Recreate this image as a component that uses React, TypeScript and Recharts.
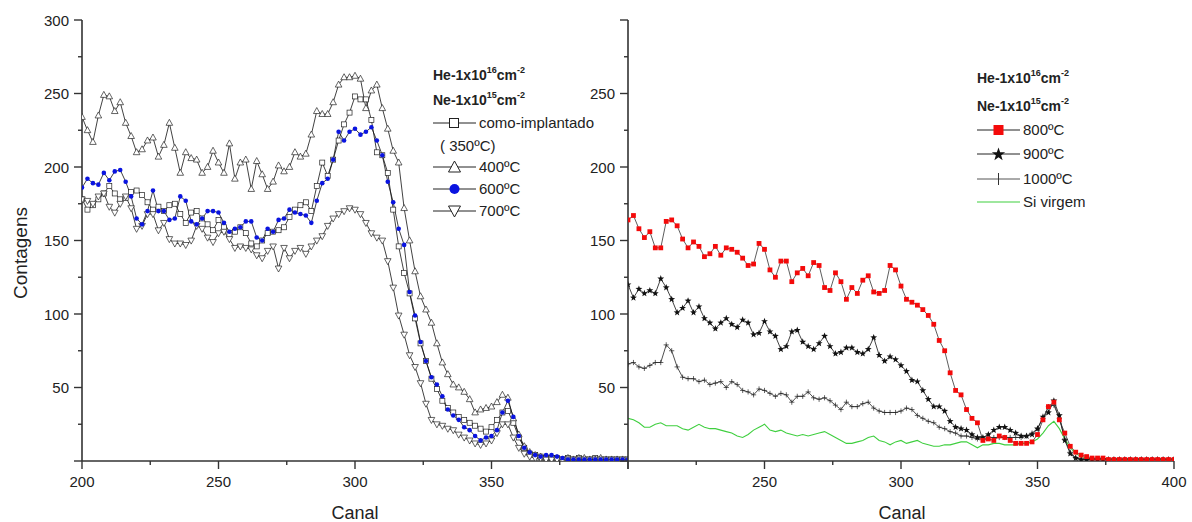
import React from 'react';
import { LineChart, Line, XAxis, YAxis } from 'recharts';

// channel axis (every 2nd channel)
const canal = [
  200, 202, 204, 206, 208, 210, 212, 214, 216, 218, 220, 222, 224, 226, 228, 230, 232, 234, 236, 238,
  240, 242, 244, 246, 248, 250, 252, 254, 256, 258, 260, 262, 264, 266, 268, 270, 272, 274, 276, 278,
  280, 282, 284, 286, 288, 290, 292, 294, 296, 298, 300, 302, 304, 306, 308, 310, 312, 314, 316, 318,
  320, 322, 324, 326, 328, 330, 332, 334, 336, 338, 340, 342, 344, 346, 348, 350, 352, 354, 356, 358,
  360, 362, 364, 366, 368, 370, 372, 374, 376, 378, 380, 382, 384, 386, 388, 390, 392, 394, 396, 398,
  400,
];

// left panel
const comoImplantado = [
  178, 171, 174, 178, 182, 187, 182, 178, 179, 183, 184, 181, 176, 171, 173, 170, 174, 175, 168, 162,
  169, 170, 165, 161, 157, 164, 159, 154, 156, 159, 155, 148, 146, 150, 155, 156, 157, 159, 166, 171,
  174, 176, 170, 187, 203, 194, 205, 218, 229, 237, 248, 246, 246, 232, 210, 208, 196, 171, 146, 128,
  114, 97, 80, 68, 56, 49, 41, 36, 33, 30, 28, 26, 24, 22, 20, 23, 28, 33, 34, 26,
  16, 9, 5, 4, 3, 2, 2, 2, 1, 2, 1, 2, 1, 1, 2, 1, 1, 1, 1, 1,
  1,
];
const t400 = [
  234, 225, 217, 235, 249, 248, 238, 244, 230, 221, 210, 212, 218, 220, 207, 215, 230, 213, 196, 210,
  206, 205, 196, 200, 211, 203, 196, 216, 192, 203, 205, 185, 204, 195, 185, 190, 201, 197, 200, 210,
  207, 209, 222, 238, 236, 236, 244, 256, 261, 261, 262, 260, 240, 252, 256, 240, 226, 211, 203, 172,
  150, 129, 112, 103, 94, 80, 67, 59, 52, 50, 47, 42, 33, 35, 36, 37, 40, 45, 43, 29,
  18, 10, 6, 4, 3, 2, 2, 2, 1, 2, 1, 2, 2, 1, 1, 2, 1, 1, 1, 1,
  1,
];
const t600 = [
  186, 192, 189, 188, 196, 191, 197, 198, 190, 180, 165, 161, 170, 184, 170, 170, 164, 165, 180, 177,
  163, 161, 165, 170, 170, 169, 162, 156, 158, 159, 163, 163, 152, 150, 158, 156, 164, 165, 171, 169,
  168, 167, 162, 177, 189, 192, 205, 224, 218, 224, 226, 222, 224, 227, 218, 208, 190, 176, 158, 147,
  115, 99, 81, 68, 57, 52, 44, 35, 31, 28, 23, 21, 17, 14, 16, 17, 21, 33, 41, 30,
  17, 9, 6, 4, 3, 4, 4, 3, 2, 1, 1, 1, 1, 1, 1, 1, 1, 1, 1, 1,
  1,
];
const t700 = [
  178, 177, 175, 180, 182, 173, 169, 175, 180, 172, 158, 160, 168, 168, 157, 162, 151, 148, 148, 147,
  150, 160, 158, 152, 149, 155, 156, 151, 145, 146, 145, 144, 140, 138, 143, 146, 131, 145, 138, 143,
  145, 141, 146, 150, 153, 160, 165, 168, 170, 172, 171, 168, 162, 155, 152, 150, 136, 118, 99, 86,
  72, 64, 53, 39, 28, 25, 24, 22, 21, 18, 16, 14, 12, 11, 12, 14, 19, 25, 25, 16,
  9, 5, 3, 2, 2, 1, 1, 1, 1, 1, 1, 1, 1, 1, 1, 1, 1, 1, 1, 1,
  1,
];

// right panel
const t800 = [
  164, 167, 158, 152, 156, 145, 145, 163, 164, 160, 151, 145, 149, 146, 139, 141, 146, 140, 145, 144,
  142, 138, 133, 134, 148, 144, 130, 125, 136, 136, 122, 128, 131, 126, 135, 133, 118, 116, 128, 122,
  110, 118, 114, 123, 126, 115, 114, 116, 133, 130, 119, 110, 108, 106, 103, 99, 93, 82, 75, 60,
  48, 45, 35, 29, 26, 14, 15, 14, 17, 16, 14, 12, 12, 12, 13, 18, 28, 37, 40, 28,
  19, 10, 6, 4, 3, 2, 2, 2, 1, 1, 1, 1, 1, 1, 1, 1, 1, 1, 1, 1,
  1,
];
const t900 = [
  120, 111, 117, 114, 116, 114, 124, 118, 110, 101, 104, 109, 101, 105, 97, 94, 90, 94, 97, 93,
  91, 96, 94, 86, 87, 95, 88, 85, 76, 78, 88, 89, 81, 78, 76, 80, 85, 78, 73, 74,
  77, 77, 74, 73, 76, 84, 72, 68, 71, 69, 65, 61, 55, 54, 48, 42, 37, 37, 34, 27,
  23, 22, 21, 18, 16, 16, 18, 21, 23, 23, 21, 19, 17, 17, 18, 22, 30, 33, 41, 31,
  14, 5, 2, 1, 1, 1, 1, 1, 1, 1, 1, 1, 1, 1, 1, 1, 1, 1, 1, 1,
  1,
];
const t1000 = [
  66, 67, 64, 63, 65, 67, 67, 79, 75, 64, 57, 56, 56, 54, 55, 52, 53, 54, 50, 54,
  52, 48, 47, 45, 49, 48, 46, 44, 46, 45, 40, 44, 44, 47, 43, 42, 43, 41, 38, 35,
  40, 37, 37, 39, 40, 36, 34, 33, 33, 33, 34, 36, 35, 31, 29, 27, 26, 23, 22, 20,
  19, 17, 17, 16, 15, 15, 16, 16, 16, 16, 16, 16, 16, 17, 19, 22, 29, 37, 38, 29,
  15, 6, 2, 1, 1, 1, 1, 1, 1, 1, 1, 1, 1, 1, 1, 1, 1, 1, 1, 1,
  1,
];
const siVirgem = [
  29, 28, 26, 23, 23, 25, 26, 24, 24, 24, 22, 21, 23, 25, 23, 22, 22, 21, 20, 19,
  17, 16, 18, 21, 23, 25, 21, 20, 21, 19, 18, 17, 18, 17, 18, 19, 20, 18, 16, 14,
  12, 12, 13, 14, 16, 17, 14, 13, 11, 13, 14, 12, 13, 14, 12, 11, 10, 10, 11, 11,
  12, 13, 13, 11, 9, 11, 11, 12, 12, 11, 11, 11, 12, 12, 13, 15, 19, 24, 27, 22,
  15, 9, 5, 3, 2, 1, 1, 1, 1, 1, 1, 1, 1, 1, 1, 1, 1, 1, 1, 1,
  1,
];

const xTicks = [200, 225, 250, 275, 300, 325, 350, 375, 400];
const yTicks = [0, 25, 50, 75, 100, 125, 150, 175, 200, 225, 250, 275, 300];
const leftXLabels = [200, 250, 300, 350];
const rightXLabels = [250, 300, 350, 400];
const leftYLabels = [50, 100, 150, 200, 250, 300];
const rightYLabels = [50, 100, 150, 200, 250];

const data = canal.map((c, i) => ({
  canal: c,
  como: comoImplantado[i],
  t400: t400[i],
  t600: t600[i],
  t700: t700[i],
  t800: t800[i],
  t900: t900[i],
  t1000: t1000[i],
  si: siVirgem[i],
}));

const FONT = '"Liberation Sans", Arial, Helvetica, sans-serif';
const AX = '#333';
const TXT = '#222';

const makeTick = (side: string, labels: number[]) => (p: any) => {
  const { x, y, payload, index } = p;
  const v = payload.value;
  const major = v % 50 === 0;
  const show = labels.includes(v);
  const k = `${side}-${index}`;
  if (side === 'left') {
    const len = major ? 8 : 4;
    return (
      <g key={k}>
        <line x1={x - len} x2={x} y1={y} y2={y} stroke={AX} strokeWidth={1.4} />
        {show && (
          <text x={x - 13} y={y} textAnchor="end" dominantBaseline="central" fontSize={15} fill={TXT} fontFamily={FONT}>
            {v}
          </text>
        )}
      </g>
    );
  }
  if (side === 'bottom') {
    const len = major ? 8 : 4;
    return (
      <g key={k}>
        <line x1={x} x2={x} y1={y} y2={y + len} stroke={AX} strokeWidth={1.4} />
        {show && (
          <text x={x} y={y + 26} textAnchor="middle" fontSize={15} fill={TXT} fontFamily={FONT}>
            {v}
          </text>
        )}
      </g>
    );
  }
  if (side === 'top') {
    const len = major ? 7 : 4;
    return <line key={k} x1={x} x2={x} y1={y} y2={y + len} stroke={AX} strokeWidth={1.4} />;
  }
  const len = major ? 6 : 4;
  return <line key={k} x1={x - len} x2={x} y1={y} y2={y} stroke={AX} strokeWidth={1.4} />;
};

// markers
const none = (p: any) => <g key={`n${p.index}`} />;
const ok = (p: any) => typeof p.cx === 'number' && typeof p.cy === 'number';

const openSquare = (p: any) =>
  ok(p) ? <rect key={`s${p.index}`} x={p.cx - 2.5} y={p.cy - 2.5} width={5} height={5} fill="#fff" stroke="#222" strokeWidth={0.7} /> : none(p);
const openTriUp = (p: any) =>
  ok(p) ? (
    <polygon key={`u${p.index}`} points={`${p.cx},${p.cy - 3.6} ${p.cx - 3.3},${p.cy + 2.4} ${p.cx + 3.3},${p.cy + 2.4}`} fill="#fff" stroke="#222" strokeWidth={0.7} />
  ) : none(p);
const openTriDown = (p: any) =>
  ok(p) ? (
    <polygon key={`d${p.index}`} points={`${p.cx},${p.cy + 3.6} ${p.cx - 3.3},${p.cy - 2.4} ${p.cx + 3.3},${p.cy - 2.4}`} fill="#fff" stroke="#222" strokeWidth={0.7} />
  ) : none(p);
const blueDot = (p: any) =>
  ok(p) ? <circle key={`b${p.index}`} cx={p.cx} cy={p.cy} r={2.3} fill="#0a14e0" stroke="none" /> : none(p);
const redSquare = (p: any) =>
  ok(p) ? <rect key={`r${p.index}`} x={p.cx - 2.4} y={p.cy - 2.4} width={4.8} height={4.8} fill="#f40a0a" stroke="none" /> : none(p);

const starPts = (cx: number, cy: number, ro: number, ri: number) => {
  const pts: string[] = [];
  for (let i = 0; i < 10; i++) {
    const r = i % 2 === 0 ? ro : ri;
    const a = -Math.PI / 2 + (i * Math.PI) / 5;
    pts.push(`${cx + r * Math.cos(a)},${cy + r * Math.sin(a)}`);
  }
  return pts.join(' ');
};
const blackStar = (p: any) =>
  ok(p) ? <polygon key={`t${p.index}`} points={starPts(p.cx, p.cy, 3.6, 1.5)} fill="#111" /> : none(p);
const plusMark = (p: any) =>
  ok(p) ? (
    <g key={`p${p.index}`}>
      <line x1={p.cx - 2.6} x2={p.cx + 2.6} y1={p.cy} y2={p.cy} stroke="#222" strokeWidth={0.7} />
      <line x1={p.cx} x2={p.cx} y1={p.cy - 2.6} y2={p.cy + 2.6} stroke="#222" strokeWidth={0.7} />
    </g>
  ) : none(p);

const axisLine = { stroke: AX, strokeWidth: 1.6 };

const Sup: React.FC<{ children: React.ReactNode }> = ({ children }) => (
  <span style={{ fontSize: 9, position: 'relative', top: -7 }}>{children}</span>
);

const Dose: React.FC<{ el: string; exp: string; x: number; cy: number }> = ({ el, exp, x, cy }) => (
  <div style={{ position: 'absolute', left: x, top: cy - 9, height: 18, lineHeight: '18px', fontSize: 14, fontWeight: 'bold', color: TXT, whiteSpace: 'nowrap' }}>
    {el}-1x10<Sup>{exp}</Sup>cm<Sup>-2</Sup>
  </div>
);

const LegendRow: React.FC<{ x: number; cy: number; label: string; marker: React.ReactNode; color?: string; lw?: number }> = ({
  x,
  cy,
  label,
  marker,
  color = '#222',
  lw = 1,
}) => (
  <div style={{ position: 'absolute', left: x, top: cy - 9, height: 18, display: 'flex', alignItems: 'center', whiteSpace: 'nowrap' }}>
    <svg width={43} height={16} style={{ display: 'block' }}>
      <line x1={0} x2={43} y1={8} y2={8} stroke={color} strokeWidth={lw} />
      {marker}
    </svg>
    <span style={{ marginLeft: 3, fontSize: 15, color: TXT, lineHeight: '18px' }}>{label}</span>
  </div>
);

const App: React.FC = () => {
  return (
    <div style={{ position: 'absolute', left: 0, top: 0, width: 1192, height: 522, background: '#fff', fontFamily: FONT }}>
      <div style={{ position: 'absolute', left: 0, top: 0 }}>
        <LineChart width={640} height={522} data={data} margin={{ top: 20, right: 12, bottom: 0, left: 0 }}>
          <XAxis
            dataKey="canal"
            type="number"
            domain={[200, 400]}
            ticks={xTicks}
            interval={0}
            height={61}
            axisLine={axisLine}
            tickLine={false}
            tickSize={0}
            tickMargin={0}
            tick={makeTick('bottom', leftXLabels)}
            allowDataOverflow
          />
          <XAxis
            xAxisId="top"
            dataKey="canal"
            type="number"
            orientation="top"
            mirror
            domain={[200, 400]}
            ticks={xTicks}
            interval={0}
            height={0}
            axisLine={axisLine}
            tickLine={false}
            tickSize={0}
            tickMargin={0}
            tick={makeTick('top', [])}
          />
          <YAxis
            type="number"
            domain={[0, 300]}
            ticks={yTicks}
            interval={0}
            width={82}
            axisLine={axisLine}
            tickLine={false}
            tickSize={0}
            tickMargin={0}
            tick={makeTick('left', leftYLabels)}
            allowDataOverflow
          />
          <Line dataKey="como" stroke="#111" strokeWidth={0.8} dot={openSquare} activeDot={false} isAnimationActive={false} />
          <Line dataKey="t400" stroke="#111" strokeWidth={0.8} dot={openTriUp} activeDot={false} isAnimationActive={false} />
          <Line dataKey="t700" stroke="#111" strokeWidth={0.8} dot={openTriDown} activeDot={false} isAnimationActive={false} />
          <Line dataKey="t600" stroke="#111" strokeWidth={0.8} dot={blueDot} activeDot={false} isAnimationActive={false} />
        </LineChart>
      </div>

      <div style={{ position: 'absolute', left: 540, top: 0 }}>
        <LineChart width={652} height={522} data={data} margin={{ top: 20, right: 18, bottom: 0, left: 0 }}>
          <XAxis
            dataKey="canal"
            type="number"
            domain={[200, 400]}
            ticks={xTicks}
            interval={0}
            height={61}
            axisLine={axisLine}
            tickLine={false}
            tickSize={0}
            tickMargin={0}
            tick={makeTick('bottom', rightXLabels)}
            allowDataOverflow
          />
          <XAxis
            xAxisId="top"
            dataKey="canal"
            type="number"
            orientation="top"
            mirror
            domain={[200, 400]}
            ticks={xTicks}
            interval={0}
            height={0}
            axisLine={axisLine}
            tickLine={false}
            tickSize={0}
            tickMargin={0}
            tick={makeTick('top', [])}
          />
          <YAxis
            type="number"
            domain={[0, 300]}
            ticks={yTicks}
            interval={0}
            width={88}
            axisLine={axisLine}
            tickLine={false}
            tickSize={0}
            tickMargin={0}
            tick={makeTick('left', rightYLabels)}
            allowDataOverflow
          />
          <YAxis
            yAxisId="r"
            type="number"
            orientation="right"
            mirror
            domain={[0, 300]}
            ticks={yTicks}
            interval={0}
            width={0}
            axisLine={axisLine}
            tickLine={false}
            tickSize={0}
            tickMargin={0}
            tick={makeTick('right', [])}
          />
          <Line dataKey="t1000" stroke="#222" strokeWidth={0.8} dot={plusMark} activeDot={false} isAnimationActive={false} />
          <Line dataKey="t900" stroke="#111" strokeWidth={0.8} dot={blackStar} activeDot={false} isAnimationActive={false} />
          <Line dataKey="t800" stroke="#333" strokeWidth={0.8} dot={redSquare} activeDot={false} isAnimationActive={false} />
          <Line dataKey="si" stroke="#3fcf3f" strokeWidth={1.1} dot={false} activeDot={false} isAnimationActive={false} />
        </LineChart>
      </div>

      {/* axis titles */}
      <div style={{ position: 'absolute', left: 20, top: 253, transform: 'translate(-50%, -50%) rotate(-90deg)', fontSize: 19, lineHeight: 1, color: TXT, whiteSpace: 'nowrap' }}>
        Contagens
      </div>
      <div style={{ position: 'absolute', left: 355, top: 513, transform: 'translate(-50%, -50%)', fontSize: 18, lineHeight: 1, color: TXT }}>Canal</div>
      <div style={{ position: 'absolute', left: 902, top: 513, transform: 'translate(-50%, -50%)', fontSize: 18, lineHeight: 1, color: TXT }}>Canal</div>

      {/* left legend */}
      <Dose el="He" exp="16" x={433} cy={75} />
      <Dose el="Ne" exp="15" x={433} cy={100} />
      <LegendRow x={433} cy={123} label="como-implantado" marker={<rect x={16.5} y={3.5} width={9} height={9} fill="#fff" stroke="#222" strokeWidth={1} />} />
      <div style={{ position: 'absolute', left: 440, top: 146 - 9, height: 18, lineHeight: '18px', fontSize: 15, color: TXT, whiteSpace: 'nowrap' }}>( 350ºC)</div>
      <LegendRow x={433} cy={167} label="400ºC" marker={<polygon points="21.5,2 15.5,13 27.5,13" fill="#fff" stroke="#222" strokeWidth={1} />} />
      <LegendRow x={433} cy={189} label="600ºC" marker={<circle cx={21.5} cy={8} r={5} fill="#0a14e0" />} />
      <LegendRow x={433} cy={211} label="700ºC" marker={<polygon points="21.5,14 15.5,3 27.5,3" fill="#fff" stroke="#222" strokeWidth={1} />} />

      {/* right legend */}
      <Dose el="He" exp="16" x={977} cy={78} />
      <Dose el="Ne" exp="15" x={977} cy={106} />
      <LegendRow x={977} cy={130} label="800ºC" marker={<rect x={16.5} y={3} width={10} height={10} fill="#f40a0a" />} />
      <LegendRow x={977} cy={154} label="900ºC" marker={<polygon points={starPts(21.5, 8.5, 7, 2.8)} fill="#111" />} />
      <LegendRow
        x={977}
        cy={179}
        label="1000ºC"
        color="#555"
        marker={<line x1={21.5} x2={21.5} y1={2} y2={14} stroke="#333" strokeWidth={1} />}
      />
      <LegendRow x={977} cy={202} label="Si virgem" color="#3fcf3f" lw={1.2} marker={null} />
    </div>
  );
};

export default App;
